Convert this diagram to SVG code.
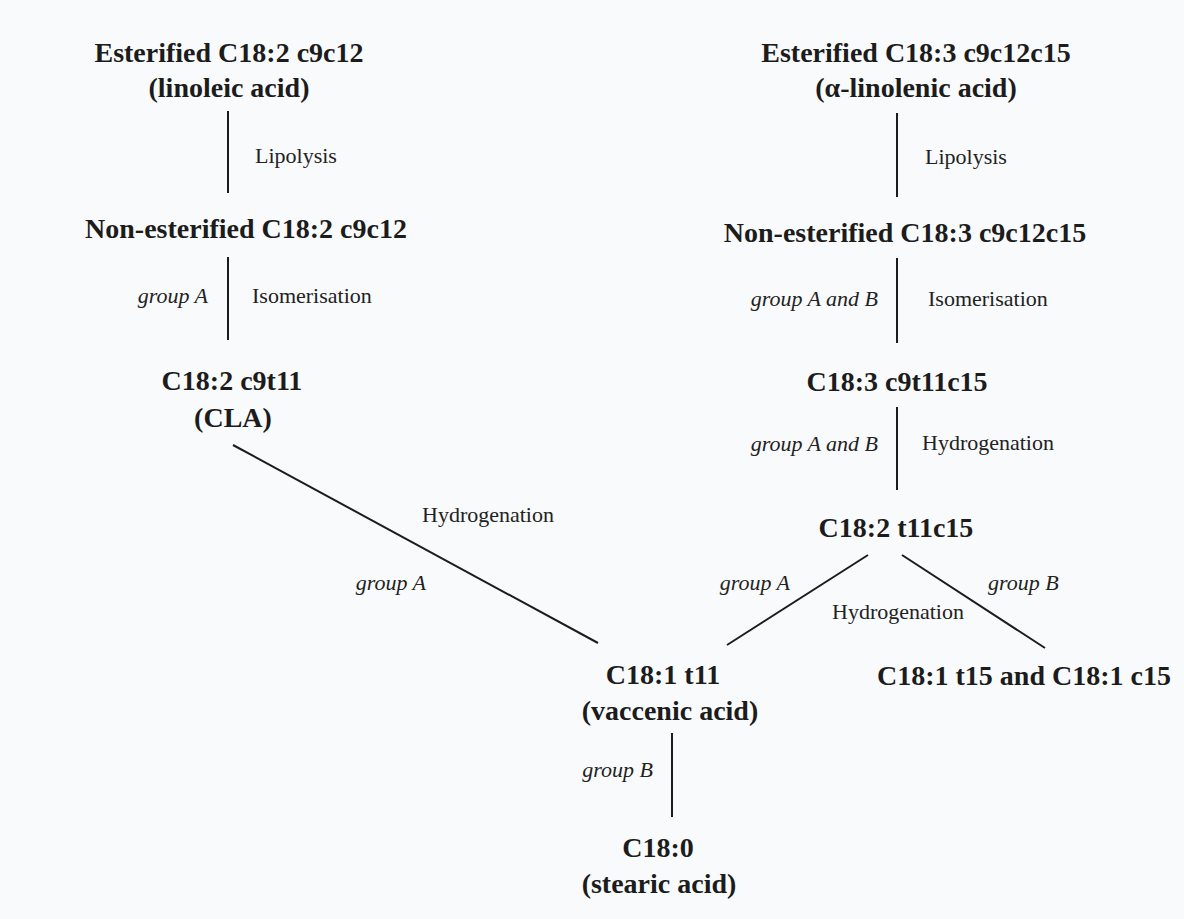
<svg xmlns="http://www.w3.org/2000/svg" width="1184" height="919" viewBox="0 0 1184 919">
  <style>
    .b { font-family: "Liberation Serif", "Times New Roman", serif; font-weight: bold; font-size: 28px; fill: #1c1c1c; text-anchor: middle; }
    .r { font-family: "Liberation Serif", "Times New Roman", serif; font-size: 22px; fill: #222; }
    .i { font-family: "Liberation Serif", "Times New Roman", serif; font-style: italic; font-size: 22px; fill: #222; text-anchor: end; }
    .c line { stroke: #1c1c1c; stroke-width: 2; stroke-linecap: butt; }
  </style>
  <rect width="1184" height="919" fill="#f9fafb"/>

  <g class="c" id="connectors">
    <line x1="228" y1="111" x2="228" y2="193"/>
    <line x1="228" y1="257" x2="228" y2="340"/>
    <line x1="233" y1="445" x2="598" y2="643"/>
    <line x1="897" y1="113" x2="897" y2="197"/>
    <line x1="897" y1="258" x2="897" y2="343"/>
    <line x1="897" y1="407" x2="897" y2="490"/>
    <line x1="868" y1="555" x2="727" y2="645"/>
    <line x1="902" y1="555" x2="1045" y2="648"/>
    <line x1="672" y1="733" x2="672" y2="817"/>
  </g>

  <g id="labels">
    <text class="r" x="255" y="163">Lipolysis</text>
    <text class="i" x="208" y="303">group A</text>
    <text class="r" x="252" y="303">Isomerisation</text>
    <text class="r" x="422" y="522">Hydrogenation</text>
    <text class="i" x="426" y="590">group A</text>
    <text class="r" x="925" y="164">Lipolysis</text>
    <text class="i" x="878" y="306">group A and B</text>
    <text class="r" x="928" y="306">Isomerisation</text>
    <text class="i" x="878" y="451">group A and B</text>
    <text class="r" x="922" y="450">Hydrogenation</text>
    <text class="i" x="790" y="590">group A</text>
    <text class="r" x="988" y="590" style="font-style:italic">group B</text>
    <text class="r" x="832" y="619">Hydrogenation</text>
    <text class="i" x="653" y="777">group B</text>
  </g>

  <g id="n-linoleic">
    <text class="b" x="229" y="62">Esterified C18:2 c9c12</text>
    <text class="b" x="229" y="97">(linoleic acid)</text>
  </g>
  <g id="n-ne-linoleic">
    <text class="b" x="246" y="238">Non-esterified C18:2 c9c12</text>
  </g>
  <g id="n-cla">
    <text class="b" x="232" y="390">C18:2 c9t11</text>
    <text class="b" x="233" y="427">(CLA)</text>
  </g>
  <g id="n-linolenic">
    <text class="b" x="916" y="62">Esterified C18:3 c9c12c15</text>
    <text class="b" x="916" y="97">(α-linolenic acid)</text>
  </g>
  <g id="n-ne-linolenic">
    <text class="b" x="905" y="242">Non-esterified C18:3 c9c12c15</text>
  </g>
  <g id="n-c183">
    <text class="b" x="897" y="391">C18:3 c9t11c15</text>
  </g>
  <g id="n-c182">
    <text class="b" x="896" y="537">C18:2 t11c15</text>
  </g>
  <g id="n-vaccenic">
    <text class="b" x="663" y="684">C18:1 t11</text>
    <text class="b" x="670" y="720">(vaccenic acid)</text>
  </g>
  <g id="n-t15c15">
    <text class="b" x="1024" y="685">C18:1 t15 and C18:1 c15</text>
  </g>
  <g id="n-stearic">
    <text class="b" x="658" y="857">C18:0</text>
    <text class="b" x="659" y="893">(stearic acid)</text>
  </g>
</svg>
